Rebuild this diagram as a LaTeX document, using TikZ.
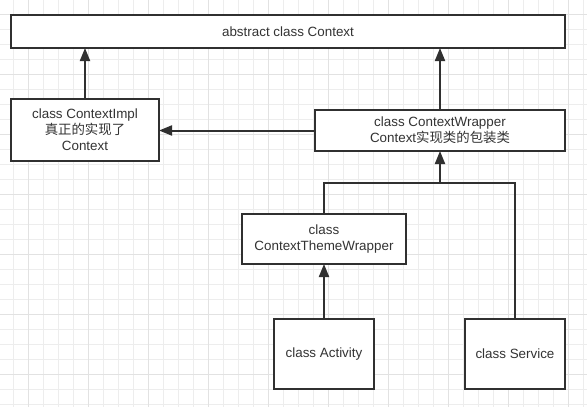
\documentclass[tikz,border=0pt]{standalone}
\usepackage{fontspec}
\setmainfont{Liberation Sans}
\newfontfamily\cjk{Noto Sans CJK SC}
\usetikzlibrary{arrows.meta}
\definecolor{ink}{HTML}{303030}
\definecolor{txt}{HTML}{333333}
\definecolor{gminor}{HTML}{EDEDED}
\definecolor{gmajor}{HTML}{E2E2E2}
\tikzset{
  box/.style={draw=ink, line width=2pt, fill=white, rectangle, inner sep=0pt, outer sep=0pt,
    align=center, text=txt, font=\fontsize{13.4}{16}\selectfont},
  arr/.style={draw=ink, line width=2pt, -{Triangle[length=13pt,width=10pt]}},
  link/.style={draw=ink, line width=2pt},
}
\begin{document}
\begin{tikzpicture}[x=1pt,y=-1pt]
\useasboundingbox (0,0) rectangle (587,407);
\fill[white] (0,0) rectangle (587,407);
% grid
\foreach \k in {0,...,38} {
  \draw[gminor, line width=1pt] ({13.33+15*\k},0) -- ({13.33+15*\k},407);
}
\foreach \k in {0,...,26} {
  \draw[gminor, line width=1pt] (0,{14.33+15*\k}) -- (587,{14.33+15*\k});
}
\foreach \k in {0,...,9} {
  \draw[gmajor, line width=1pt] ({28.33+60*\k},0) -- ({28.33+60*\k},407);
}
\foreach \k in {0,...,6} {
  \draw[gmajor, line width=1pt] (0,{14.33+60*\k}) -- (587,{14.33+60*\k});
}
% boxes
\node[box, minimum width=554pt, minimum height=33pt] (top) at (288,31.5) {abstract class Context};
\node[box, minimum width=148pt, minimum height=62pt] (impl) at (85,130) {class ContextImpl\\{\cjk 真正的实现了}\\Context};
\node[box, minimum width=250pt, minimum height=41pt] (wrap) at (440,130.5) {class ContextWrapper\\Context{\cjk 实现类的包装类}};
\node[box, minimum width=164pt, minimum height=50pt] (theme) at (324,239) {class\\ContextThemeWrapper};
\node[box, minimum width=100pt, minimum height=70pt] (act) at (324,354) {class Activity};
\node[box, minimum width=100pt, minimum height=70pt] (serv) at (515,354) {class Service};
\coordinate (j) at (440,183.3);
% connectors
\draw[arr] (impl.north) -- (impl.north |- top.south);
\draw[arr] (wrap.north) -- (wrap.north |- top.south);
\draw[arr] (wrap.west) -- (impl.east |- wrap.west);
\draw[arr] (act.north) -- (theme.south);
\draw[link] (theme.north) |- (j) -| (serv.north);
\draw[arr] (j) -- (wrap.south);
\end{tikzpicture}
\end{document}
